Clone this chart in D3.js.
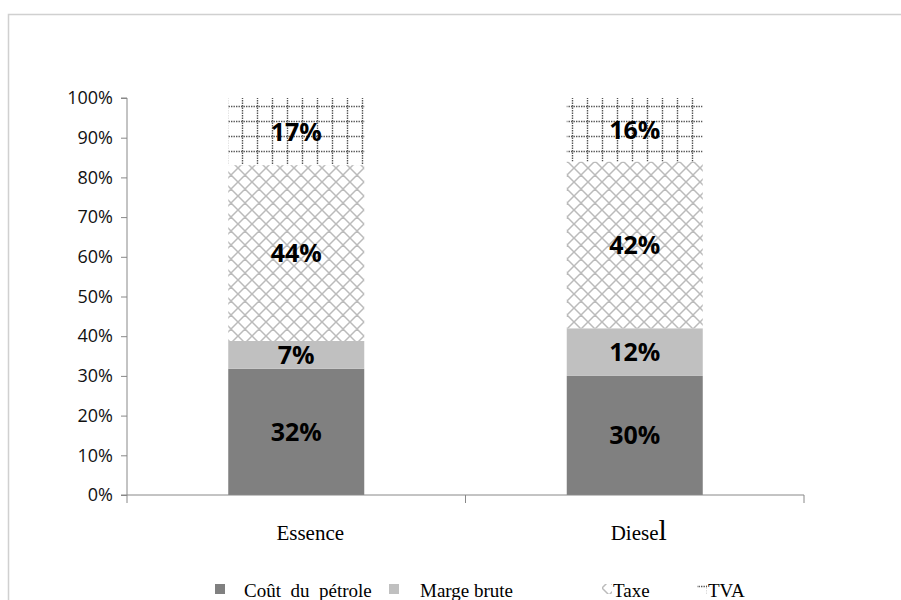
<!DOCTYPE html>
<html><head><meta charset="utf-8">
<script src="https://cdn.jsdelivr.net/npm/d3@7"></script>
<style>body{margin:0;background:#fff}svg{display:block}</style>
</head><body>
<svg id="c" width="901" height="600"></svg>
<script>
const categories = ["Essence", "Diesel"];
const seriesNames = ["Coût du pétrole", "Marge brute", "Taxe", "TVA"];
const coutPetrole = [31.8, 30.0];
const margeBrute = [7.0, 12.0];
const taxe = [44.3, 42.0];
const tva = [16.9, 16.0];
const valueLabels = [["32%", "30%"], ["7%", "12%"], ["44%", "42%"], ["17%", "16%"]];
const yTicks = [0,10,20,30,40,50,60,70,80,90,100];

const svg = d3.select("#c");
const defs = svg.append("defs");
// Taxe: diagonal cross-hatch
const P = 14;
const p1 = defs.append("pattern").attr("id","taxe").attr("patternUnits","userSpaceOnUse")
  .attr("width",P).attr("height",P);
p1.append("rect").attr("width",P).attr("height",P).attr("fill","#fff");
p1.append("path").attr("d",`M0,0L${P},${P}M${P},0L0,${P}M${-P/2},${P/2}L${P/2},${1.5*P}M${P/2},${-P/2}L${1.5*P},${P/2}M${-P/2},${P/2}L${P/2},${-P/2}M${P/2},${1.5*P}L${1.5*P},${P/2}`)
  .attr("stroke","#bbbbbb").attr("stroke-width",1.5);
// TVA: dotted grid
const p2 = defs.append("pattern").attr("id","tva").attr("patternUnits","userSpaceOnUse")
  .attr("width",15).attr("height",15).attr("x",1).attr("y",0);
p2.append("rect").attr("width",15).attr("height",15).attr("fill","#fff");
p2.append("path").attr("d","M0,1.5H15M1.5,0V15").attr("stroke","#555").attr("stroke-width",1.4)
  .attr("stroke-dasharray","1.4,1.1");

// outer border
svg.append("rect").attr("x",8.5).attr("y",14.5).attr("width",1000).attr("height",700)
  .attr("fill","none").attr("stroke","#d0d0d0").attr("stroke-width",1.5);

const x = d3.scaleBand().domain(categories).range([127, 804]).paddingInner(0).paddingOuter(0);
const y = d3.scaleLinear().domain([0,100]).range([495, 98]);

const series = [coutPetrole, margeBrute, taxe, tva];
const fills = ["#808080", "#c0c0c0", "url(#taxe)", "url(#tva)"];
const rows = categories.map((c,i)=>{const o={cat:c}; seriesNames.forEach((s,j)=>o[s]=series[j][i]); return o;});
const stacked = d3.stack().keys(seriesNames)(rows);

const barW = 136;
stacked.forEach((layer, j)=>{
  svg.append("g").selectAll("rect").data(layer).join("rect")
    .attr("x", d=>x(d.data.cat)+x.bandwidth()/2-barW/2)
    .attr("y", d=>y(d[1]))
    .attr("width", barW)
    .attr("height", d=>y(d[0])-y(d[1]))
    .attr("fill", fills[j]);
  svg.append("g").selectAll("text").data(layer).join("text")
    .attr("x", d=>x(d.data.cat)+x.bandwidth()/2)
    .attr("y", d=>(y(d[0])+y(d[1]))/2)
    .attr("dy","0.36em")
    .attr("text-anchor","middle")
    .attr("font-family","'Open Sans', sans-serif").attr("font-weight","bold")
    .attr("font-size",25).attr("fill","#000")
    .text((d,i)=>valueLabels[j][i]);
});

// y axis
const yAxis = svg.append("g").attr("transform","translate(127,0)")
  .call(d3.axisLeft(y).tickValues(yTicks).tickSize(6).tickPadding(8).tickFormat(d=>d+"%"));
yAxis.select(".domain").attr("stroke","#888").attr("d","M-6,495H0V98H-6");
yAxis.selectAll(".tick line").attr("stroke","#888");
yAxis.selectAll(".tick text").attr("font-family","'Open Sans', sans-serif").attr("font-size",18).attr("fill","#111");

// x axis
const xg = svg.append("g").attr("transform","translate(0,495)");
xg.append("line").attr("x1",127).attr("x2",804).attr("stroke","#888");
const bounds = [127, x("Diesel"), 804];
xg.selectAll(".tk").data(bounds).join("line").attr("x1",d=>d).attr("x2",d=>d)
  .attr("y1",0).attr("y2",8).attr("stroke","#888");
xg.selectAll("text").data(categories).join("text")
  .attr("x",(d,i)=>x(d)+x.bandwidth()/2 + (i===1?4:14))
  .attr("y",45).attr("text-anchor","middle")
  .attr("font-family","'Liberation Serif', serif").attr("font-size",21).attr("fill","#000")
  .each(function(d){
    const t=d3.select(this);
    if(d==="Diesel"){ t.append("tspan").text("Diese"); t.append("tspan").attr("font-size",30).text("l"); }
    else t.text(d);
  });

// legend
const leg = svg.append("g").attr("font-family","'Liberation Serif', serif").attr("font-size",19).attr("fill","#000");
const legItems = [
  {x:215, tx:244, fill:"#808080", text:"Coût  du  pétrole", w:10, h:10},
  {x:389, tx:420, fill:"#c0c0c0", text:"Marge brute", w:10, h:10},
  {x:602, tx:613, fill:"url(#taxe)", text:"Taxe", w:10, h:10},
  {x:697, tx:708, fill:"url(#tva)", text:"TVA", w:10, h:10}
];
legItems.forEach(it=>{
  leg.append("rect").attr("x",it.x).attr("y",584).attr("width",it.w).attr("height",it.h).attr("fill",it.fill);
  leg.append("text").attr("x",it.tx).attr("y",597).attr("xml:space","preserve").style("white-space","pre").text(it.text);
});
</script>
</body></html>
